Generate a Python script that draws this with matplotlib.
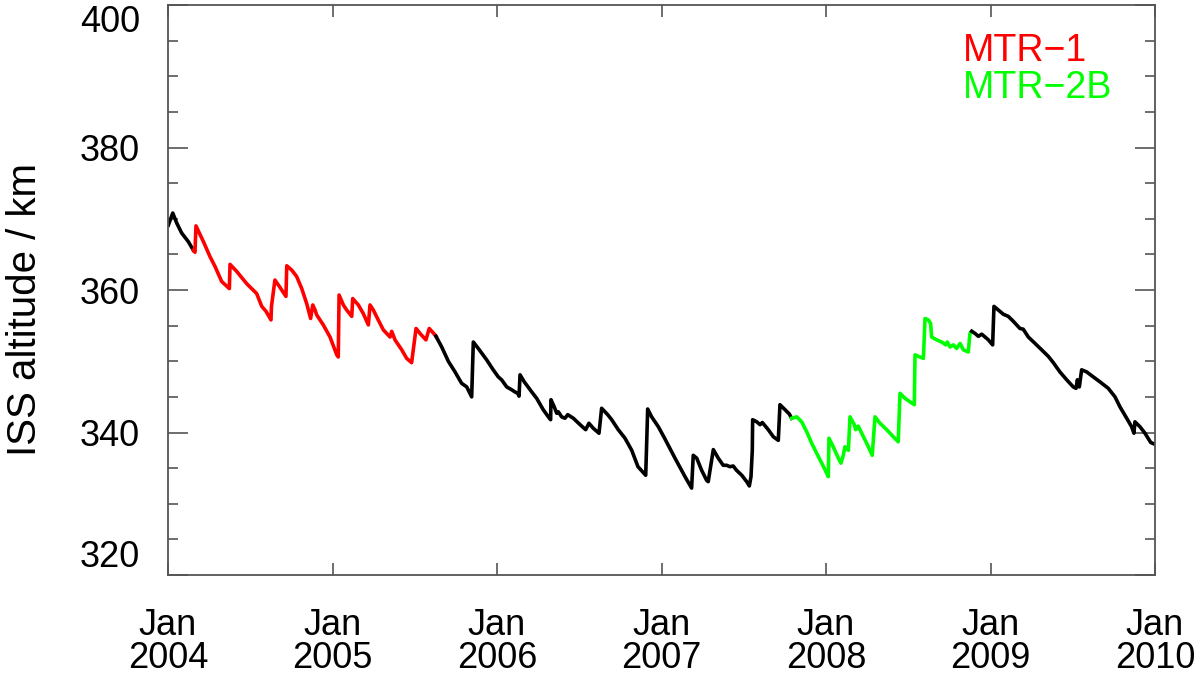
import numpy as np
import matplotlib
matplotlib.use("Agg")
import matplotlib.pyplot as plt

plt.rcParams['font.family'] = ['Liberation Sans', 'DejaVu Sans']

# ISS altitude, time in decimal years after Jan 2004, altitude in km
# black part before MTR-1
t_pre = [0.002, 0.029, 0.053, 0.083, 0.123, 0.154]
alt_pre = [369.1, 370.8, 369.4, 368.0, 366.8, 365.6]

# MTR-1 (red)
t_mtr1 = [0.154, 0.164, 0.170, 0.215, 0.255, 0.286, 0.326, 0.373, 0.377, 0.418,
          0.478, 0.539, 0.570, 0.596, 0.626, 0.629, 0.650, 0.677, 0.717, 0.722,
          0.752, 0.782, 0.813, 0.843, 0.867, 0.880, 0.894, 0.904, 0.944, 0.985,
          1.026, 1.035, 1.040, 1.066, 1.086, 1.117, 1.123, 1.157, 1.187, 1.218,
          1.228, 1.248, 1.278, 1.309, 1.350, 1.360, 1.380, 1.421, 1.451, 1.481,
          1.491, 1.508, 1.532, 1.568, 1.588, 1.623, 1.629]
alt_mtr1 = [365.6, 365.3, 369.0, 366.8, 364.7, 363.3, 361.2, 360.2, 363.6, 362.6,
            360.9, 359.5, 357.7, 357.0, 355.8, 357.7, 361.4, 360.5, 359.1, 363.4,
            362.8, 361.9, 360.2, 358.1, 356.0, 357.9, 357.2, 356.5, 355.1, 353.4,
            350.9, 350.6, 359.3, 357.9, 357.2, 356.3, 358.8, 357.9, 356.7, 355.1,
            357.9, 357.2, 355.8, 354.4, 353.4, 354.2, 353.0, 351.6, 350.4, 349.8,
            351.6, 354.6, 353.9, 353.0, 354.6, 353.7, 353.5]

# black part between the two campaigns
t_mid = [1.629, 1.664, 1.704, 1.745, 1.785, 1.816, 1.846, 1.856, 1.886, 1.937,
         1.977, 2.008, 2.028, 2.059, 2.089, 2.109, 2.126, 2.134, 2.140, 2.166,
         2.211, 2.241, 2.281, 2.312, 2.326, 2.328, 2.348, 2.363, 2.373, 2.393,
         2.413, 2.430, 2.464, 2.505, 2.539, 2.559, 2.585, 2.620, 2.636, 2.673,
         2.697, 2.737, 2.778, 2.819, 2.857, 2.904, 2.916, 2.940, 2.981, 3.021,
         3.082, 3.143, 3.183, 3.193, 3.214, 3.244, 3.274, 3.284, 3.315, 3.345,
         3.375, 3.396, 3.416, 3.436, 3.456, 3.488, 3.518, 3.534, 3.544, 3.552,
         3.554, 3.579, 3.599, 3.613, 3.649, 3.680, 3.710, 3.720, 3.751, 3.777,
         3.791]
alt_mid = [353.5, 352.0, 350.0, 348.5, 346.9, 346.4, 345.0, 352.7, 351.8, 350.2,
           348.8, 347.8, 347.4, 346.4, 346.0, 345.7, 345.5, 345.1, 348.1, 347.1,
           345.7, 344.8, 343.2, 342.2, 341.8, 344.6, 343.6, 342.7, 342.9, 342.2,
           342.0, 342.5, 342.0, 341.1, 340.4, 341.3, 340.6, 339.9, 343.4, 342.5,
           341.8, 340.4, 339.2, 337.5, 335.2, 334.0, 343.3, 342.2, 340.8, 339.1,
           336.4, 333.8, 332.2, 336.8, 336.4, 334.7, 333.3, 333.1, 337.6, 336.4,
           335.4, 335.4, 335.2, 335.3, 334.7, 334.0, 333.1, 332.5, 333.8, 337.5,
           341.8, 341.5, 341.1, 341.4, 340.4, 339.4, 338.9, 343.9, 343.2, 342.6,
           342.0]

# MTR-2B (green)
t_mtr2 = [3.791, 3.822, 3.852, 3.883, 3.913, 3.943, 3.974, 4.004, 4.014, 4.018,
          4.044, 4.075, 4.091, 4.105, 4.115, 4.136, 4.146, 4.172, 4.180, 4.196,
          4.217, 4.247, 4.281, 4.298, 4.328, 4.369, 4.409, 4.439, 4.450, 4.480,
          4.511, 4.537, 4.541, 4.571, 4.592, 4.602, 4.622, 4.636, 4.642, 4.673,
          4.703, 4.728, 4.737, 4.754, 4.774, 4.794, 4.815, 4.835, 4.865, 4.875,
          4.886]
alt_mtr2 = [342.0, 342.2, 341.5, 340.1, 338.5, 337.1, 335.7, 334.3, 333.8, 339.2,
            338.0, 336.4, 335.7, 336.8, 338.0, 337.5, 342.2, 341.1, 340.4, 340.9,
            339.9, 338.5, 336.8, 342.2, 341.3, 340.4, 339.4, 338.7, 345.5, 344.8,
            344.3, 343.9, 350.9, 350.6, 350.4, 356.0, 355.8, 355.3, 353.4, 353.0,
            352.7, 352.3, 352.7, 352.0, 352.3, 351.8, 352.5, 351.6, 351.3, 353.9,
            354.2]

# black part after MTR-2B
t_post = [4.886, 4.906, 4.926, 4.947, 4.977, 4.987, 5.013, 5.021, 5.047, 5.078,
          5.108, 5.139, 5.179, 5.199, 5.230, 5.271, 5.311, 5.351, 5.382, 5.422,
          5.463, 5.503, 5.520, 5.528, 5.540, 5.554, 5.585, 5.625, 5.666, 5.716,
          5.757, 5.787, 5.828, 5.858, 5.872, 5.878, 5.909, 5.939, 5.974, 5.994]
alt_post = [354.2, 353.9, 353.5, 353.8, 353.2, 353.0, 352.3, 357.7, 357.2, 356.6,
            356.3, 355.6, 354.6, 354.5, 353.4, 352.5, 351.6, 350.7, 349.8, 348.5,
            347.4, 346.4, 346.2, 347.4, 346.4, 348.8, 348.5, 347.8, 347.1, 346.2,
            345.0, 343.6, 342.0, 340.8, 339.9, 341.5, 340.8, 339.9, 338.6, 338.4]

years = [2004, 2005, 2006, 2007, 2008, 2009, 2010]
year_labels = ['Jan\n%d' % y for y in years]
y_ticks = [320, 340, 360, 380, 400]

fig = plt.figure(figsize=(12, 6.76), dpi=100)
ax = fig.add_axes([0.14, 0.1494, 0.8225, 0.8432])

lw = 2.6
ax.plot(2004 + np.array(t_pre), alt_pre, color='black', lw=lw)
ax.plot(2004 + np.array(t_mtr1), alt_mtr1, color='#ff0000', lw=lw)
ax.plot(2004 + np.array(t_mid), alt_mid, color='black', lw=lw)
ax.plot(2004 + np.array(t_mtr2), alt_mtr2, color='#00ff00', lw=lw)
ax.plot(2004 + np.array(t_post), alt_post, color='black', lw=lw)

ax.set_xlim(2004, 2010)
ax.set_ylim(320, 400)

ax.set_xticks(years)
ax.set_xticklabels(year_labels, linespacing=0.9)
ax.set_yticks(y_ticks)
ax.set_yticks(np.arange(320, 401, 5), minor=True)

spine_col = '#555555'
for s in ax.spines.values():
    s.set_color(spine_col)
    s.set_linewidth(1.3)

ax.tick_params(axis='y', which='major', direction='in', length=14.5, width=1.2,
               color=spine_col, left=True, right=True, labelsize=26, pad=20)
ax.tick_params(axis='y', which='minor', direction='in', length=7.2, width=1.2,
               color=spine_col, left=True, right=True)
ax.tick_params(axis='x', which='major', direction='in', length=8.6, width=1.2,
               color=spine_col, top=True, bottom=True, labelsize=26, pad=24)

ylabs = ax.get_yticklabels()
ylabs[0].set_va('bottom')
ylabs[-1].set_va('top')

ax.set_ylabel('ISS altitude / km', fontsize=29)
ax.yaxis.set_label_coords(-0.126, 0.465)

ax.text(0.805, 0.92, 'MTR\u22121', color='#ff0000', fontsize=27,
        transform=ax.transAxes, ha='left', va='center')
ax.text(0.805, 0.855, 'MTR\u22122B', color='#00ff00', fontsize=27,
        transform=ax.transAxes, ha='left', va='center')

fig.savefig('out.png', dpi=100)
